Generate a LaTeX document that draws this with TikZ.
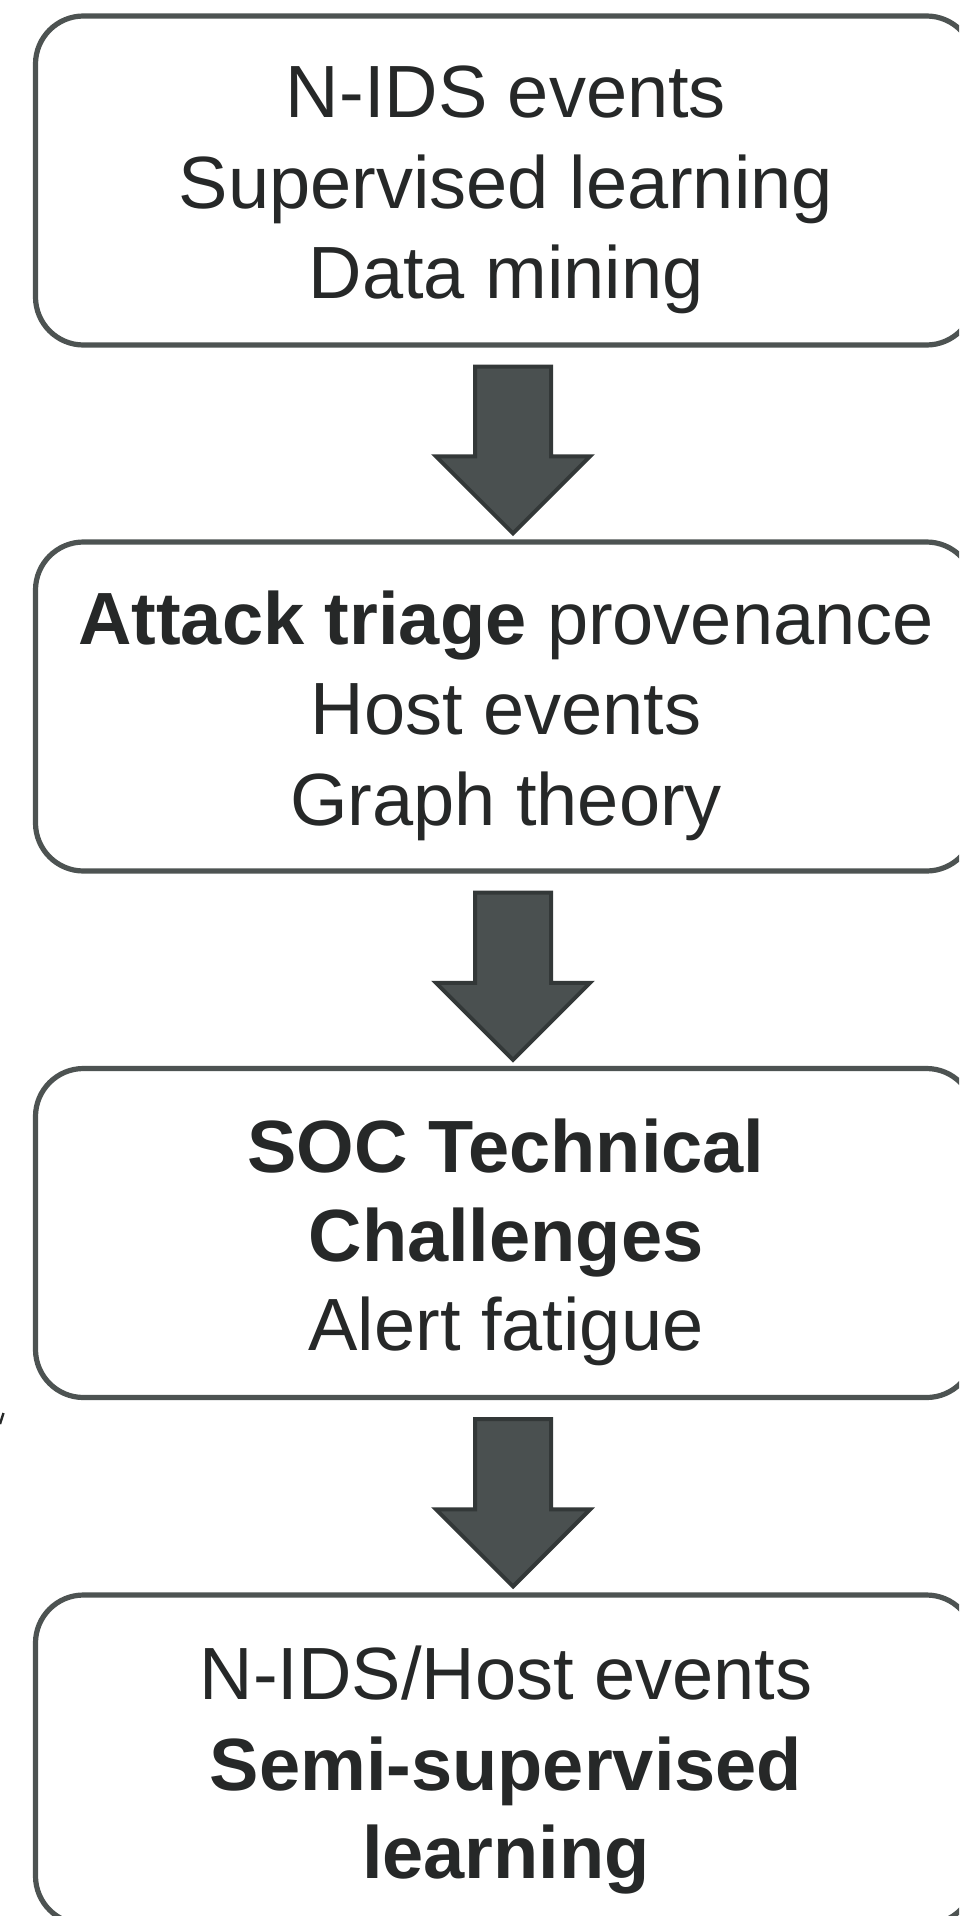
\documentclass[tikz,border=0pt]{standalone}
\usepackage{fontspec}
\setmainfont{Liberation Sans}
\usetikzlibrary{calc}
\definecolor{boxline}{HTML}{4D5352}
\definecolor{arrowfill}{HTML}{4A5050}
\definecolor{arrowline}{HTML}{333838}
\definecolor{inktext}{HTML}{262828}
\tikzset{
  x=0.5pt, y=-0.5pt,
  stagebox/.style={draw=boxline, line width=2.6pt, rounded corners=24pt,
    minimum width=469.5pt, minimum height=164.5pt, fill=white, inner sep=0pt},
  stageline/.style={anchor=base, inner sep=0pt, text=inktext,
    font=\fontsize{37pt}{45pt}\selectfont},
  flowarrow/.style={fill=arrowfill, draw=arrowline, line width=2pt, line join=miter},
}
\begin{document}
\begin{tikzpicture}
\useasboundingbox (0,0) rectangle (959,1916);
\clip (0,0) rectangle (959,1916);
\fill[white] (0,0) rectangle (959,1916);

% stage boxes
\node[stagebox] (b1) at (505,180.5) {};
\node[stagebox] (b2) at (505,706.5) {};
\node[stagebox] (b3) at (505,1233) {};
\node[stagebox] (b4) at (505,1759.5) {};

% box texts, one node per line
\node[stageline] (t1a) at (506,118) {N-IDS events};
\node[stageline] (t1b) at (506,208) {Supervised learning};
\node[stageline] (t1c) at (506,298) {Data mining};

\node[stageline] (t2a) at (506,644) {\textbf{Attack triage} provenance};
\node[stageline] (t2b) at (506,734) {Host events};
\node[stageline] (t2c) at (506,825) {Graph theory};

\node[stageline] (t3a) at (506,1172) {\textbf{SOC Technical}};
\node[stageline] (t3b) at (506,1261) {\textbf{Challenges}};
\node[stageline] (t3c) at (506,1350) {Alert fatigue};

\node[stageline] (t4a) at (506,1699) {N-IDS/Host events};
\node[stageline] (t4b) at (506,1790) {\textbf{Semi-supervised}};
\node[stageline] (t4c) at (506,1878) {\textbf{learning}};

% block arrows between consecutive boxes (axis 8 units right of box centre)
\foreach \a/\b in {b1/b2, b2/b3, b3/b4} {
  \draw[flowarrow]
    ($(\a.south)+(-30,19)$) -- ($(\a.south)+(46,19)$)
    -- ($(\b.north)+(46,-83)$) -- ($(\b.north)+(85,-83)$)
    -- ($(\b.north)+(8,-6)$)
    -- ($(\b.north)+(-69,-83)$) -- ($(\b.north)+(-30,-83)$) -- cycle;
}

% stray stroke at the left margin
\draw[inktext, line width=1.2pt] (0,1424) -- (3.5,1413);
\end{tikzpicture}
\end{document}
